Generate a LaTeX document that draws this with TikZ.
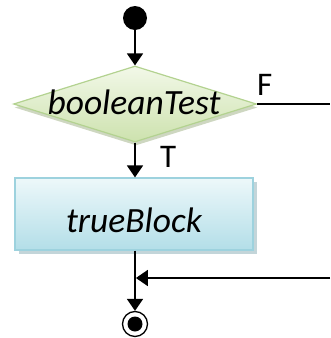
\documentclass[tikz,border=0pt]{standalone}
\usepackage{fontspec}
\setmainfont{Carlito}
\usetikzlibrary{shapes.geometric,arrows.meta,shadows}

\definecolor{testTop}{HTML}{F2F8E8}
\definecolor{testBot}{HTML}{CDE2AE}
\definecolor{testLine}{HTML}{B3D290}
\definecolor{testShade}{HTML}{B9C6A6}
\definecolor{blockTop}{HTML}{EDF8FA}
\definecolor{blockBot}{HTML}{B3DEE8}
\definecolor{blockLine}{HTML}{9DD2DE}
\definecolor{blockShade}{HTML}{A9C3C9}

\begin{document}
\begin{tikzpicture}[x=1pt,y=-1pt,
  flow/.style={line width=1.8pt, -{Triangle[width=16pt,length=12pt]}},
  plain/.style={line width=1.8pt},
  startdot/.style={circle, fill=black, minimum size=24pt, inner sep=0pt},
  endring/.style={circle, draw=black, line width=1.3pt, fill=white, minimum size=25pt, inner sep=0pt},
  enddot/.style={circle, fill=black, minimum size=15pt, inner sep=0pt},
  testshape/.style={diamond, draw=testLine, line width=1.2pt,
    top color=testTop, bottom color=testBot,
    minimum width=243pt, minimum height=76pt, inner sep=0pt,
    drop shadow={shadow xshift=1pt, shadow yshift=-3.5pt, fill=testShade, opacity=0.7}},
  blockshape/.style={rectangle, draw=blockLine, line width=1.2pt,
    top color=blockTop, bottom color=blockBot,
    minimum width=238pt, minimum height=72pt, inner sep=0pt,
    drop shadow={shadow xshift=4pt, shadow yshift=-4pt, fill=blockShade, opacity=0.7}},
  caption/.style={font=\fontsize{35.5}{38}\selectfont\itshape},
  branch/.style={font=\fontsize{33}{35}\selectfont, anchor=base west, inner sep=0pt},
]
\useasboundingbox (0,0) rectangle (330,338);

% start and decision
\node[startdot] (start) at (135,18) {};
\node[testshape] (test) at (135,104) {};
\node[caption] (testText) at (134,102) {booleanTest};

% block executed when the test holds
\node[blockshape] (block) at (134,214) {};
\node[caption] (blockText) at (134,220) {trueBlock};

% final state
\node[endring] (end) at (135,324) {};
\node[enddot] (endDot) at (end.center) {};

% branch labels
\node[branch] (lblF) at (257,95) {F};
\node[branch] (lblT) at (160,167) {T};

% connectors
\coordinate (fOut) at (330,104);
\coordinate (fIn) at (330,278);
\coordinate (merge) at (135,278);

\draw[flow] (start) -- (test.north);
\draw[plain] (test.east) -- (fOut);
\draw[flow] (test.south) -- (block.north -| test.south);
\draw[flow] (block.south -| end.north) -- (end.north);
\draw[flow, shorten >=0.9pt] (fIn) -- (merge);
\end{tikzpicture}
\end{document}
